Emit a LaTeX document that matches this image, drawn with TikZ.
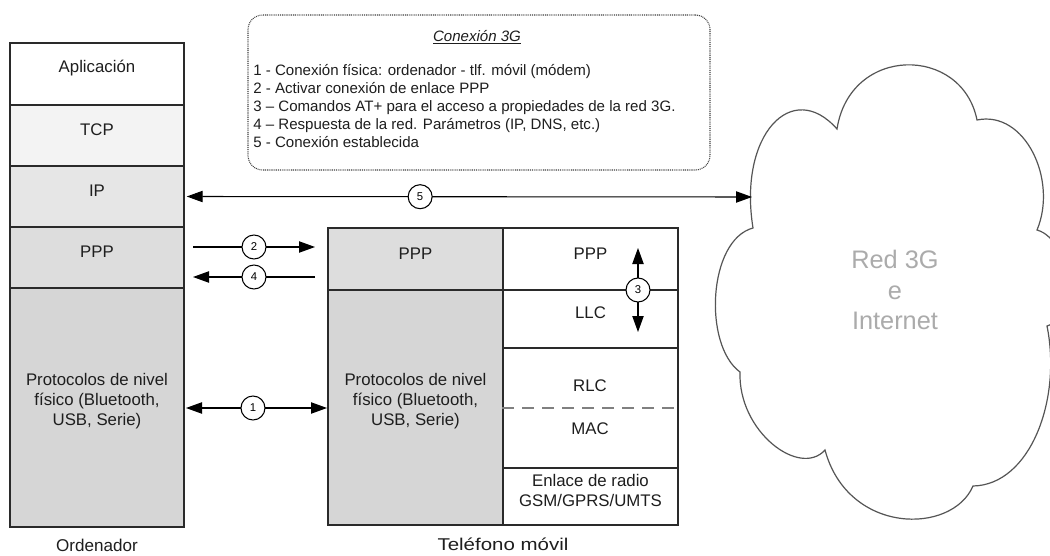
\documentclass[tikz,border=0pt]{standalone}
\usepackage{fontspec}
\usepackage{graphicx}
\setmainfont{Liberation Sans}
\usetikzlibrary{arrows.meta,fit}
\definecolor{edge}{HTML}{2A2A2A}
\definecolor{txt}{HTML}{1E1E1E}
\definecolor{gA}{HTML}{F3F3F3}
\definecolor{gB}{HTML}{E6E6E6}
\definecolor{gC}{HTML}{DDDDDD}
\definecolor{gD}{HTML}{D6D6D6}
\definecolor{cloudline}{HTML}{555555}
\definecolor{cloudtxt}{HTML}{ABABAB}
\begin{document}
\begin{tikzpicture}[x=0.75pt,y=-0.75pt,
  layer/.style={draw=edge, line width=1.1pt, inner sep=0pt, align=center,
    font=\fontsize{12.6}{15}\selectfont, text=txt},
  num/.style={circle, draw=black, fill=white, line width=0.8pt, minimum size=18pt,
    inner sep=0pt, font=\fontsize{8.5}{9}\selectfont},
  conn/.style={line width=0.8pt, draw=black},
  hd/.tip={Triangle[length=12pt,width=8.5pt]},
  caption/.style={font=\fontsize{12.8}{15}\selectfont, text=txt},
]
\useasboundingbox (0,0) rectangle (1050,556);
\fill[white] (0,0) rectangle (1050,556);

% ---- Ordenador stack
\node[layer, fill=white, fit={(10,43)(184,105)}] (app) {Aplicación};
\node[layer, fill=gA, fit={(10,105)(184,166)}] (tcp) {TCP};
\node[layer, fill=gB, fit={(10,166)(184,227)}] (ip) {IP};
\node[layer, fill=gC, fit={(10,227)(184,288)}] (ppp) {PPP};
\node[layer, fill=gD, fit={(10,288)(184,527)}] (phys) {Protocolos de nivel\\físico (Bluetooth,\\USB, Serie)};
\node[caption] (ord) at (97,545) {Ordenador};

% ---- Telefono stack
\node[layer, fill=gC, fit={(328,228)(503,290)}] (mppp) {PPP};
\node[layer, fill=gD, fit={(328,290)(503,525)}] (mphys) {Protocolos de nivel\\físico (Bluetooth,\\USB, Serie)};
\node[layer, fill=white, fit={(503,228)(678,290)}] (rppp) {PPP};
\node[layer, fill=white, fit={(503,290)(678,348)}] (llc) {LLC};
\node[layer, fill=white, fit={(503,348)(678,468)}] (rlcmac) {};
\node[layer, draw=none, fill=none] (rlc) at (590,386) {RLC};
\node[layer, draw=none, fill=none] (mac) at (590,429) {MAC};
\draw[draw=gray, line width=1.1pt, dash pattern=on 9pt off 6pt] (rlcmac.west) -- (rlcmac.east);
\node[layer, fill=white, fit={(503,468)(678,525)}] (radio) {Enlace de radio\\GSM/GPRS/UMTS};
\node[caption] (movil) at (503,544) {\scalebox{1.2}[1]{Teléfono móvil}};

% ---- Info box
\node[draw=black!75, line width=0.8pt, dash pattern=on 0.7pt off 0.7pt,
      rounded corners=11pt, fit={(248,15)(710,170)}, inner sep=0pt] (info) {};
\node[font=\fontsize{11.3}{13.5}\selectfont\itshape, text=txt] (title) at (477,37) {\underline{Conexión 3G}};
\node[anchor=north west, align=left, inner sep=0pt, text=txt,
      font=\fontsize{11.3}{13.5}\selectfont] (list) at (253,64) {%
1 - Conexión física: ordenador - tlf. móvil (módem)\\
2 - Activar conexión de enlace PPP\\
3 -- Comandos AT+ para el acceso a propiedades de la red 3G.\\
4 -- Respuesta de la red. Parámetros (IP, DNS, etc.)\\
5 - Conexión establecida};

% ---- Cloud
\draw[cloudline, line width=0.9pt, fill=white]
  (753,228) .. controls (738,135) and (792,78) .. (837,129)
  .. controls (850,45) and (962,45) .. (977,120)
  .. controls (1025,110) and (1058,180) .. (1037,230)
  .. controls (1072,240) and (1076,320) .. (1047,326)
  .. controls (1062,400) and (1030,485) .. (973,486)
  .. controls (952,535) and (848,535) .. (825,450)
  .. controls (800,478) and (738,432) .. (740,372)
  .. controls (703,345) and (708,240) .. (753,228) -- cycle;
\coordinate (cloudedge) at (752,197);
\node[font=\fontsize{19}{23}\selectfont, text=cloudtxt, align=center] (net) at (895,290) {Red 3G\\e\\Internet};

% ---- Connectors
\coordinate (a2s) at (193,247);
\coordinate (a2e) at (315,247);
\coordinate (a4s) at (315,277);
\coordinate (a4e) at (193,277);
\coordinate (a1s) at (186,408);
\coordinate (a1e) at (327,408);
\coordinate (a3s) at (638,248);
\coordinate (a3e) at (638,332);

\draw[conn, hd-hd, shorten <=1.5pt] (ip.east) -- node[num, pos=0.415] (n5) {5} (cloudedge);
\draw[conn, -hd] (a2s) -- node[num] (n2) {2} (a2e);
\draw[conn, -hd] (a4s) -- node[num] (n4) {4} (a4e);
\draw[conn, hd-hd] (a1s) -- node[num, pos=0.475] (n1) {1} (a1e);
\draw[conn, hd-hd] (a3s) -- node[num] (n3) {3} (a3e);
\end{tikzpicture}
\end{document}
